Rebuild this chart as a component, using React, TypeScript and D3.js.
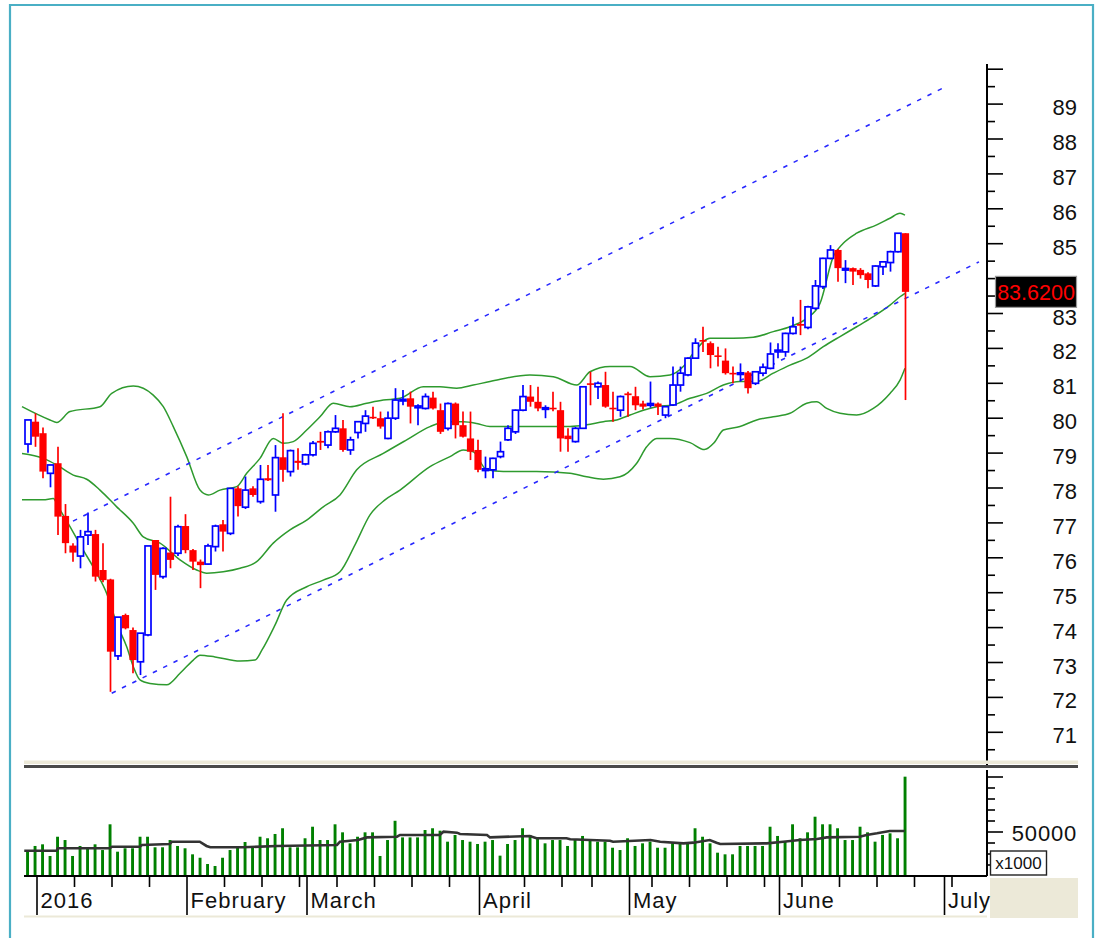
import React from "react";
import * as d3 from "d3";

const W = 1101;
const H = 938;

// ---- OHLC (bar index 0 = last session of 2015, 117 = 24 June 2016) ----
const opens = [
  79.26, 79.9, 79.57, 78.42, 78.71, 77.2, 76.35, 76.05, 76.65, 76.68,
  75.65, 75.38, 73.19, 74.36, 73.93, 73.02, 73.79, 76.51, 75.46, 76.15,
  76.13, 76.91, 76.22, 75.89, 75.82, 76.32, 76.96, 76.7, 77.99, 77.45,
  77.99, 77.61, 78.28, 77.8, 78.88, 78.47, 78.78, 78.69, 78.95, 79.35,
  79.23, 79.61, 79.71, 79.09, 79.59, 79.85, 80.04, 80.0, 79.42, 80.0,
  80.5, 80.57, 80.3, 80.28, 80.59, 80.23, 79.71, 80.42, 79.8, 79.42,
  79.09, 78.5, 78.52, 78.9, 79.38, 79.61, 80.23, 80.62, 80.47, 80.26,
  80.3, 80.23, 79.5, 79.33, 79.71, 81.0, 80.9, 80.95, 80.3, 80.23,
  80.71, 80.63, 80.42, 80.37, 80.42, 80.09, 80.38, 80.95, 81.24, 81.72,
  82.24, 82.15, 81.8, 81.65, 81.3, 81.26, 81.31, 81.0, 81.29, 81.43,
  81.9, 81.9, 82.43, 82.7, 82.6, 83.15, 83.77, 84.58, 84.82, 84.25,
  84.3, 84.25, 84.15, 83.79, 84.34, 84.46, 84.77, 85.3,
];
const highs = [
  79.95, 80.14, 79.73, 78.66, 79.18, 77.54, 76.42, 76.8, 77.3, 76.8,
  76.42, 75.4, 74.3, 74.4, 74.0, 73.84, 76.34, 76.51, 76.3, 77.75,
  76.95, 77.25, 76.25, 75.95, 76.4, 76.95, 77.08, 78.0, 78.05, 78.33,
  78.05, 78.66, 78.66, 79.23, 80.14, 79.1, 79.14, 78.98, 79.35, 79.61,
  79.65, 80.09, 79.95, 79.47, 79.92, 80.23, 80.33, 80.19, 80.19, 80.86,
  80.81, 80.76, 80.4, 80.71, 80.76, 80.42, 80.45, 80.45, 80.19, 80.19,
  79.38, 78.9, 78.87, 79.33, 79.8, 80.25, 80.95, 80.95, 80.9, 80.37,
  80.76, 80.47, 79.71, 79.75, 80.9, 81.33, 81.05, 81.33, 80.76, 80.65,
  80.76, 80.9, 80.5, 81.05, 80.45, 80.35, 81.48, 81.48, 81.75, 82.29,
  82.62, 82.2, 82.05, 82.0, 81.48, 81.57, 81.35, 81.35, 81.57, 82.17,
  82.15, 82.45, 82.91, 83.39, 83.22, 83.96, 84.6, 84.96, 84.85, 84.53,
  84.32, 84.3, 84.18, 84.38, 84.5, 84.8, 85.3, 85.3,
];
const lows = [
  79.01, 79.18, 78.28, 78.02, 76.65, 76.13, 75.89, 75.7, 76.37, 75.32,
  75.3, 72.16, 73.07, 73.95, 72.69, 72.64, 73.75, 75.08, 75.4, 75.7,
  76.05, 76.13, 75.65, 75.13, 75.8, 76.18, 76.18, 76.65, 77.18, 77.4,
  77.75, 77.55, 78.2, 77.32, 78.18, 78.33, 78.52, 78.65, 78.9, 79.09,
  79.14, 79.58, 79.04, 78.95, 79.42, 79.61, 79.98, 79.7, 79.4, 79.95,
  80.37, 79.85, 79.8, 80.25, 80.25, 79.55, 79.65, 79.42, 79.45, 78.8,
  78.45, 78.28, 78.28, 78.85, 79.35, 79.55, 80.2, 80.33, 80.2, 80.0,
  80.2, 79.04, 79.04, 79.3, 79.7, 80.37, 80.55, 80.3, 79.9, 80.04,
  80.04, 80.23, 80.25, 80.3, 80.09, 80.0, 80.35, 80.76, 81.2, 81.7,
  81.9, 81.43, 81.48, 81.25, 81.0, 81.05, 80.71, 80.95, 81.2, 81.4,
  81.72, 81.76, 82.4, 82.38, 82.55, 83.1, 83.7, 84.55, 83.91, 83.87,
  83.82, 84.0, 83.72, 83.76, 84.1, 84.2, 84.75, 80.52,
];
const closes = [
  79.95, 79.47, 78.47, 78.66, 77.18, 76.42, 76.15, 76.6, 76.75, 75.46,
  75.36, 73.31, 74.3, 73.98, 73.07, 73.84, 76.34, 75.51, 76.27, 75.94,
  76.89, 76.22, 75.89, 75.79, 76.34, 76.91, 76.75, 77.99, 77.48, 77.94,
  77.8, 78.25, 78.22, 78.87, 78.52, 79.07, 78.72, 78.95, 79.28, 79.3,
  79.61, 79.71, 79.09, 79.38, 79.9, 80.06, 80.0, 79.76, 80.0, 80.52,
  80.54, 80.33, 80.35, 80.62, 80.28, 79.61, 80.42, 79.8, 79.47, 79.04,
  78.52, 78.55, 78.85, 79.04, 79.71, 80.23, 80.62, 80.47, 80.28, 80.3,
  80.26, 79.42, 79.4, 79.71, 80.9, 80.97, 81.0, 80.33, 80.26, 80.62,
  80.66, 80.37, 80.33, 80.42, 80.33, 80.33, 80.95, 81.29, 81.72, 82.15,
  82.2, 81.81, 81.76, 81.29, 81.27, 81.3, 80.86, 81.33, 81.46, 81.84,
  81.95, 82.43, 82.62, 82.65, 83.19, 83.79, 84.58, 84.82, 84.3, 84.29,
  84.2, 84.1, 83.96, 84.36, 84.48, 84.77, 85.3, 83.62,
];
const volumes = [
  33600, 37300, 38800, 28200, 45700, 42700, 28200, 37300, 36100, 38800,
  33600, 57000, 32100, 35200, 35200, 45700, 45700, 36100, 36100, 42700,
  37300, 35200, 29700, 26600, 20900, 19100, 26600, 33600, 36100, 40900,
  36100, 45700, 44300, 48200, 53400, 36100, 36100, 44300, 54800, 42700,
  42700, 57000, 49700, 39700, 45700, 49700, 49700, 28200, 42700, 60200,
  45100, 45100, 45100, 51800, 53400, 51200, 41200, 47300, 42700, 41200,
  39100, 41200, 42700, 28500, 39100, 42700, 53400, 47300, 44300, 39700,
  42700, 42700, 37300, 42700, 46400, 42700, 41200, 41200, 35700, 33600,
  44300, 37300, 39700, 41200, 35700, 35700, 39700, 39700, 39100, 53400,
  45700, 39700, 31200, 29700, 29700, 37300, 37300, 37300, 37300, 54800,
  46400, 41200, 57000, 44300, 49700, 63900, 57000, 57000, 53400, 42700,
  42700, 54800, 49700, 41200, 47300, 48800, 44300, 100300,
];

// ---- Bollinger bands as [bar index, price] ----
const bbUpper: [number, number][] = [
  [-0.8, 80.33], [2.93, 79.95], [3.83, 79.88], [5.6, 80.19], [9.6, 80.33],
  [11.16, 80.71], [14.04, 80.92], [16.7, 80.66], [18.04, 80.33], [19.37, 79.76],
  [21.16, 78.9], [22.93, 77.94], [24.04, 77.8], [25.6, 77.94], [27.83, 78.04],
  [29.16, 78.42], [30.93, 78.85], [32.7, 79.42], [34.04, 79.28], [35.37, 79.33],
  [37.16, 79.66], [38.93, 80.04], [40.7, 80.43], [42.93, 80.33], [45.16, 80.43],
  [47.37, 80.52], [49.6, 80.57], [52.7, 80.9], [54.93, 80.9], [57.16, 80.86],
  [59.37, 80.95], [61.6, 81.05], [66.93, 81.24], [70.04, 81.19], [73.16, 80.95],
  [74.93, 81.33], [77.6, 81.48], [80.27, 81.48], [82.93, 81.19], [85.6, 81.24],
  [87.37, 81.48], [88.7, 81.86], [90.93, 82.29], [94.04, 82.29], [96.7, 82.32],
  [99.37, 82.48], [101.6, 82.62], [103.83, 82.86], [105.6, 83.29], [107.37, 84.63],
  [108.7, 85.01], [110.49, 85.3], [113.16, 85.54], [114.93, 85.73], [116.27, 85.87],
  [116.93, 85.82],
];
const bbMiddle: [number, number][] = [
  [-0.8, 78.99], [2.04, 78.85], [3.83, 78.66], [6.04, 78.37], [7.83, 78.25],
  [9.6, 77.94], [11.83, 77.46], [14.04, 76.99], [15.37, 76.6], [17.6, 76.42],
  [20.27, 75.94], [22.49, 75.65], [23.83, 75.56], [26.04, 75.6], [28.27, 75.7],
  [30.49, 75.89], [32.7, 76.42], [34.93, 76.8], [37.16, 77.08], [39.37, 77.46],
  [41.6, 77.8], [43.83, 78.52], [47.37, 78.99], [50.49, 79.38], [53.6, 79.76],
  [55.83, 79.9], [58.04, 79.9], [59.83, 79.85], [61.6, 79.76], [63.37, 79.76],
  [67.83, 79.76], [72.27, 79.76], [74.49, 79.81], [76.71, 79.9], [78.49, 79.95],
  [80.27, 80.09], [82.04, 80.23], [83.83, 80.33], [86.04, 80.38], [88.27, 80.57],
  [90.49, 80.71], [92.71, 80.95], [94.93, 81.05], [97.16, 81.05], [99.37, 81.29],
  [101.6, 81.52], [103.83, 81.72], [106.04, 82.05], [108.27, 82.34], [110.49, 82.62],
  [112.71, 82.91], [114.93, 83.24], [116.27, 83.48], [116.93, 83.58],
];
const bbLower: [number, number][] = [
  [-0.8, 77.66], [2.04, 77.66], [3.37, 77.7], [4.04, 77.46], [5.6, 76.89],
  [7.37, 76.22], [9.16, 75.56], [10.49, 74.98], [11.83, 74.12], [13.16, 73.45],
  [14.04, 72.88], [14.93, 72.5], [16.27, 72.4], [18.49, 72.36], [20.27, 72.69],
  [22.04, 73.07], [22.93, 73.21], [24.93, 73.16], [28.27, 73.04], [30.27, 73.07],
  [31.2, 73.36], [32.93, 74.07], [34.49, 74.79], [37.16, 75.17], [39.37, 75.36],
  [41.6, 75.6], [43.6, 76.37], [45.6, 77.23], [47.6, 77.66], [49.6, 77.94],
  [53.6, 78.61], [56.27, 78.9], [58.04, 79.09], [59.37, 79.04], [61.16, 78.52],
  [63.37, 78.47], [67.83, 78.47], [72.27, 78.42], [74.49, 78.32], [76.71, 78.25],
  [78.93, 78.32], [81.16, 78.71], [82.49, 79.18], [83.83, 79.42], [85.6, 79.42],
  [88.27, 79.3], [90.2, 79.1], [91.5, 79.3], [92.71, 79.66], [94.93, 79.76],
  [97.16, 79.95], [99.37, 80.04], [101.6, 80.14], [103.83, 80.43], [105.16, 80.47],
  [106.49, 80.28], [108.27, 80.14], [110.49, 80.09], [112.71, 80.28], [114.93, 80.71],
  [116.27, 81.09], [116.93, 81.43],
];

// ---- Volume moving average as [bar index, volume] ----
const volMA: [number, number][] = [
  [-0.5, 33000], [3.8, 33000], [4.0, 35200], [10.9, 35200], [11.2, 36600],
  [14.9, 36600], [15.2, 38200], [18.9, 39100], [19.2, 41200], [22.9, 41200],
  [23.8, 37300], [24.3, 36100], [28.7, 36100], [33.2, 37300], [41.2, 38200],
  [41.6, 41200], [44.0, 42700], [45.2, 45100], [49.2, 45700], [49.6, 47300],
  [54.9, 47300], [55.4, 50300], [57.2, 49400], [57.6, 48200], [61.2, 47300],
  [61.6, 45100], [66.9, 46400], [67.8, 44300], [71.8, 44300], [72.3, 43400],
  [77.6, 42100], [78.0, 41200], [83.0, 42700], [84.3, 41200], [87.4, 39700],
  [88.7, 40300], [90.9, 42700], [91.8, 40300], [92.3, 39100], [98.5, 39700],
  [100.7, 41200], [102.9, 42700], [105.2, 43600], [106.5, 45100], [110.9, 45700],
  [111.8, 47300], [113.2, 48800], [114.9, 50900], [116.9, 50900],
];

// ---- Trend channel (two parallel dashed lines), [bar index, price] ----
const channelLower: [number, number][] = [[11.16, 72.12], [126.8, 84.48]];
const channelUpper: [number, number][] = [[6.0, 77.05], [122.0, 89.46]];

// ---- Axes ----
const priceMajorTicks = [70, 71, 72, 73, 74, 75, 76, 77, 78, 79, 80, 81, 82, 83, 84, 85, 86, 87, 88, 89, 90];
// 84 is hidden behind the last-price box in the reference
const priceLabels = [71, 72, 73, 74, 75, 76, 77, 78, 79, 80, 81, 82, 83, 85, 86, 87, 88, 89];
const priceMinorTicks = [70.5, 71.5, 72.5, 73.5, 74.5, 75.5, 76.5, 77.5, 78.5, 79.5, 80.5, 81.5, 82.5, 83.5, 84.5, 85.5, 86.5, 87.5, 88.5, 89.5];
const lastPriceLabel = "83.6200";
const lastPrice = 83.62;
const volMajorTicks = [50000, 100000];
const volMinorTicks = [20000, 30000, 40000, 60000, 70000, 80000, 90000];
const volLabels = ["50000"];
const volUnitLabel = "x1000";
const monthLabels = ["2016", "February", "March", "April", "May", "June", "July"];
const monthIdx = [1, 21, 37, 60, 80, 100, 122];
const weekIdx = [6, 11, 16, 26, 31, 36, 41, 46, 51, 56, 66, 71, 75, 83, 88, 93, 98, 103, 108, 113, 118, 123];

const BLUE = "#0000ff";
const RED = "#ff0000";
const GREEN = "#2e9a2e";
const FONT = "'Liberation Sans', Arial, sans-serif";

export default function App() {
  const x = d3.scaleLinear().domain([0, 117]).range([28, 905.5]);
  const y = d3.scaleLinear().domain([71, 85]).range([732.3, 243.7]);
  const yv = d3.scaleLinear().domain([10000, 100000]).range([876, 777]);

  const bandLine = d3
    .line<[number, number]>()
    .x((d) => x(d[0]))
    .y((d) => y(d[1]))
    .curve(d3.curveMonotoneX);
  const maLine = d3
    .line<[number, number]>()
    .x((d) => x(d[0]))
    .y((d) => yv(d[1]));

  const axisX = 987;

  return (
    <svg
      width={W}
      height={H}
      style={{ position: "absolute", left: 0, top: 0, background: "#fff" }}
      fontFamily={FONT}
    >
      <rect x={0} y={0} width={W} height={H} fill="#ffffff" />

      {/* frame */}
      <line x1={10} x2={1093} y1={5} y2={5} stroke="#4aafc5" strokeWidth={2.2} />
      <line x1={10} x2={10} y1={4} y2={H} stroke="#4aafc5" strokeWidth={2.2} />
      <line x1={1093} x2={1093} y1={4} y2={H} stroke="#4aafc5" strokeWidth={2.2} />

      {/* Bollinger bands */}
      {[bbUpper, bbMiddle, bbLower].map((b, k) => (
        <path key={k} d={bandLine(b) || ""} fill="none" stroke={GREEN} strokeWidth={1.5} />
      ))}

      {/* channel */}
      {[channelLower, channelUpper].map((c, k) => (
        <line
          key={k}
          x1={x(c[0][0])}
          y1={y(c[0][1])}
          x2={x(c[1][0])}
          y2={y(c[1][1])}
          stroke="#2828ff"
          strokeWidth={1.6}
          strokeDasharray="4.5,7"
        />
      ))}

      {/* candles */}
      {opens.map((o, i) => {
        const c = closes[i];
        const up = c >= o;
        const col = up ? BLUE : RED;
        const cx = x(i);
        const yTop = y(Math.max(o, c));
        const yBot = y(Math.min(o, c));
        const h = Math.max(yBot - yTop, 1.6);
        return (
          <g key={i}>
            <line x1={cx} x2={cx} y1={y(highs[i])} y2={y(lows[i])} stroke={col} strokeWidth={1.7} />
            {up ? (
              <rect x={cx - 3} y={yTop} width={6} height={h} fill="#fff" stroke={col} strokeWidth={1.7} />
            ) : (
              <rect x={cx - 3.6} y={yTop} width={7.2} height={h} fill={col} />
            )}
          </g>
        );
      })}

      {/* price axis */}
      <line x1={axisX} x2={axisX} y1={64} y2={765} stroke="#000" strokeWidth={2} />
      {priceMajorTicks.map((v) => (
        <line key={"M" + v} x1={axisX} x2={axisX + 16} y1={y(v)} y2={y(v)} stroke="#000" strokeWidth={1.6} />
      ))}
      {priceMinorTicks.map((v) => (
        <line key={"m" + v} x1={axisX} x2={axisX + 8} y1={y(v)} y2={y(v)} stroke="#000" strokeWidth={1.6} />
      ))}
      {priceLabels.map((v) => (
        <text key={"l" + v} x={1077} y={y(v) + 11} textAnchor="end" fontSize={22} fill="#111">
          {v}
        </text>
      ))}
      <rect x={995.5} y={y(lastPrice) - 15.5} width={81} height={31} fill="#000" stroke="#999" strokeWidth={1.2} />
      <text x={1036} y={y(lastPrice) + 8} textAnchor="middle" fontSize={21.5} fill={RED}>
        {lastPriceLabel}
      </text>

      {/* pane separator */}
      <rect x={24} y={760.5} width={1054} height={3.5} fill="#ece9d8" />
      <rect x={24} y={765} width={1054} height={3} fill="#4a4a4a" />

      {/* volume bars */}
      {volumes.map((v, i) => (
        <rect key={i} x={x(i) - 1.9} y={yv(v)} width={2.9} height={876 - yv(v)} fill="#008000" />
      ))}
      <path d={maLine(volMA) || ""} fill="none" stroke="#333" strokeWidth={2.6} />

      {/* volume axis */}
      <line x1={axisX} x2={axisX} y1={770} y2={876} stroke="#000" strokeWidth={2} />
      {volMajorTicks.map((v) => (
        <line key={"vM" + v} x1={axisX} x2={axisX + 16} y1={yv(v)} y2={yv(v)} stroke="#000" strokeWidth={1.6} />
      ))}
      {volMinorTicks.map((v) => (
        <line key={"vm" + v} x1={axisX} x2={axisX + 8} y1={yv(v)} y2={yv(v)} stroke="#000" strokeWidth={1.6} />
      ))}
      {volLabels.map((s) => (
        <text key={s} x={1077} y={yv(50000) + 9} textAnchor="end" fontSize={22} letterSpacing={0.8} fill="#111">
          {s}
        </text>
      ))}
      <rect x={990.5} y={851} width={56} height={24} fill="#fff" stroke="#222" strokeWidth={1.4} />
      <text x={1018.5} y={869} textAnchor="middle" fontSize={17} fill="#111">
        {volUnitLabel}
      </text>

      {/* date axis */}
      <rect x={990} y={878} width={88} height={40} fill="#ece9d8" />
      <line x1={24} x2={axisX} y1={876} y2={876} stroke="#000" strokeWidth={2} />
      <line x1={24} x2={axisX} y1={916.5} y2={916.5} stroke="#ece9d8" strokeWidth={2} />
      {weekIdx.map((i) => (
        <line key={"w" + i} x1={x(i) + 1.5} x2={x(i) + 1.5} y1={876} y2={887} stroke="#000" strokeWidth={1.6} />
      ))}
      {monthIdx.map((i, k) => (
        <g key={"mo" + i}>
          <line x1={x(i) + 1.5} x2={x(i) + 1.5} y1={876} y2={915} stroke="#000" strokeWidth={1.6} />
          <text x={x(i) + 5} y={908} fontSize={22} letterSpacing={1} fill="#111">
            {monthLabels[k]}
          </text>
        </g>
      ))}
    </svg>
  );
}
